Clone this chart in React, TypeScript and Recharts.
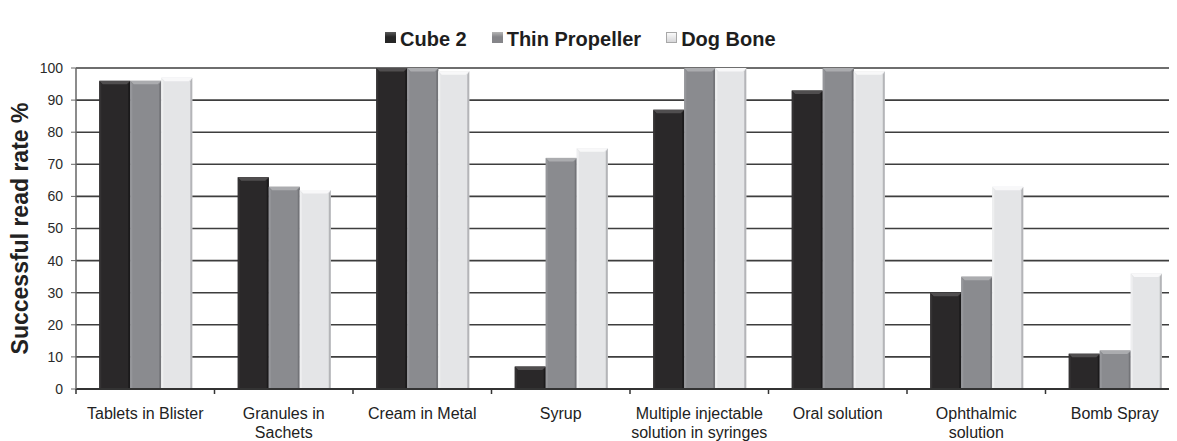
import React from "react";
import { BarChart, Bar, XAxis, YAxis, CartesianGrid, Legend } from "recharts";

const FONT = '"Liberation Sans", Arial, Helvetica, sans-serif';

const categories = [
  "Tablets in Blister",
  "Granules in Sachets",
  "Cream in Metal",
  "Syrup",
  "Multiple injectable solution in syringes",
  "Oral solution",
  "Ophthalmic solution",
  "Bomb Spray",
];

const tickLabels = [
  ["Tablets in Blister"],
  ["Granules in", "Sachets"],
  ["Cream in Metal"],
  ["Syrup"],
  ["Multiple injectable", "solution in syringes"],
  ["Oral solution"],
  ["Ophthalmic", "solution"],
  ["Bomb Spray"],
];

const seriesNames = ["Cube 2", "Thin Propeller", "Dog Bone"];
const cube2 = [96, 66, 100, 7, 87, 93, 30, 11];
const thinPropeller = [96, 63, 100, 72, 100, 100, 35, 12];
const dogBone = [97, 62, 99, 75, 100, 99, 63, 36];

const yTicks = [0, 10, 20, 30, 40, 50, 60, 70, 80, 90, 100];

const data = categories.map((name, i) => ({
  name,
  cube2: cube2[i],
  thin: thinPropeller[i],
  dog: dogBone[i],
}));

// bevel shades per series: body, top strip, left edge, right edge
const PAL = [
  { fill: "#2a2829", top: "#504e4f", left: "#343233", right: "#1b1a1b" },
  { fill: "#8a8b8f", top: "#abacaf", left: "#95969a", right: "#737478" },
  { fill: "#e4e5e7", top: "#f8f8f9", left: "#eeeff0", right: "#b4b5b8" },
];

const legendSwatch = [
  "linear-gradient(#5a5a5a, #262626 45%)",
  "linear-gradient(#b5b5b5, #858589 45%)",
  "linear-gradient(#fafafa, #d6d6d8)",
];

function BevelBar(props: any) {
  const { x, y, width, height, pal } = props;
  if (!height || height <= 0) return null;
  const b = Math.min(3.5, height / 2);
  const s = 2;
  return (
    <g>
      <rect x={x} y={y} width={width} height={height} fill={pal.fill} />
      <polygon
        points={`${x},${y} ${x + s},${y + b} ${x + s},${y + height} ${x},${y + height}`}
        fill={pal.left}
      />
      <polygon
        points={`${x + width},${y} ${x + width - s},${y + b} ${x + width - s},${y + height} ${x + width},${y + height}`}
        fill={pal.right}
      />
      <polygon
        points={`${x},${y} ${x + width},${y} ${x + width - b},${y + b} ${x + b},${y + b}`}
        fill={pal.top}
      />
    </g>
  );
}

function CatTick(props: any) {
  const { x, y, payload, width } = props;
  const idx = categories.indexOf(payload.value);
  const band = (width || 1108) / categories.length;
  const lines = tickLabels[idx] || [payload.value];
  return (
    <g>
      <line x1={x - band / 2} x2={x - band / 2} y1={y} y2={y + 5} stroke="#333" strokeWidth={1.5} />
      {idx === categories.length - 1 && (
        <line x1={x + band / 2} x2={x + band / 2} y1={y} y2={y + 5} stroke="#333" strokeWidth={1.5} />
      )}
      <text x={x} y={y + 30} textAnchor="middle" fontSize={16} fill="#222" fontFamily={FONT}>
        {lines.map((l, k) => (
          <tspan key={k} x={x} dy={k === 0 ? 0 : 19}>
            {l}
          </tspan>
        ))}
      </text>
    </g>
  );
}

function LegendContent() {
  return (
    <div style={{ display: "flex", alignItems: "flex-start", fontFamily: FONT }}>
      {seriesNames.map((n, i) => (
        <div key={n} style={{ display: "flex", alignItems: "flex-start", marginRight: 25 }}>
          <div
            style={{
              width: 11,
              height: 11,
              marginTop: 5,
              marginRight: 4,
              background: legendSwatch[i],
              border: i === 2 ? "1px solid #a8a8a8" : "none",
              boxSizing: "border-box",
            }}
          />
          <span style={{ fontSize: 20, fontWeight: "bold", lineHeight: "24px", color: "#1e1e1e" }}>{n}</span>
        </div>
      ))}
    </div>
  );
}

export default function App() {
  const keys = ["cube2", "thin", "dog"];
  return (
    <div style={{ width: 1169, height: 433, overflow: "hidden", position: "relative" }}>
      <BarChart
        width={1180}
        height={433}
        data={data}
        margin={{ top: 60, right: 4, left: 0, bottom: 0 }}
        barCategoryGap="16.8%"
        barGap={0}
      >
        <CartesianGrid vertical={false} stroke="#3e3e3e" strokeWidth={1.6} />
        <XAxis
          dataKey="name"
          height={52}
          interval={0}
          axisLine={{ stroke: "#333", strokeWidth: 2 }}
          tickLine={false}
          tickSize={0}
          tickMargin={0}
          tick={<CatTick />}
        />
        <YAxis
          width={68}
          domain={[0, 100]}
          ticks={yTicks}
          interval={0}
          axisLine={{ stroke: "#666", strokeWidth: 1.5 }}
          tickLine={{ stroke: "#666" }}
          tickSize={5}
          tickMargin={8}
          tick={{ fontSize: 14, fill: "#2a2a2a", fontFamily: FONT }}
          label={{
            value: "Successful read rate %",
            angle: -90,
            position: "insideLeft",
            offset: 12,
            style: { textAnchor: "middle", fontSize: 23, fontWeight: "bold", fill: "#222", fontFamily: FONT },
          }}
        />
        <Legend
          layout="horizontal"
          verticalAlign="middle"
          align="center"
          wrapperStyle={{ top: 19, left: 377, width: 520 }}
          content={() => <LegendContent />}
        />
        {keys.map((k, i) => (
          <Bar
            key={k}
            dataKey={k}
            name={seriesNames[i]}
            fill={PAL[i].fill}
            isAnimationActive={false}
            shape={(p: any) => <BevelBar {...p} pal={PAL[i]} />}
          />
        ))}
      </BarChart>
    </div>
  );
}
